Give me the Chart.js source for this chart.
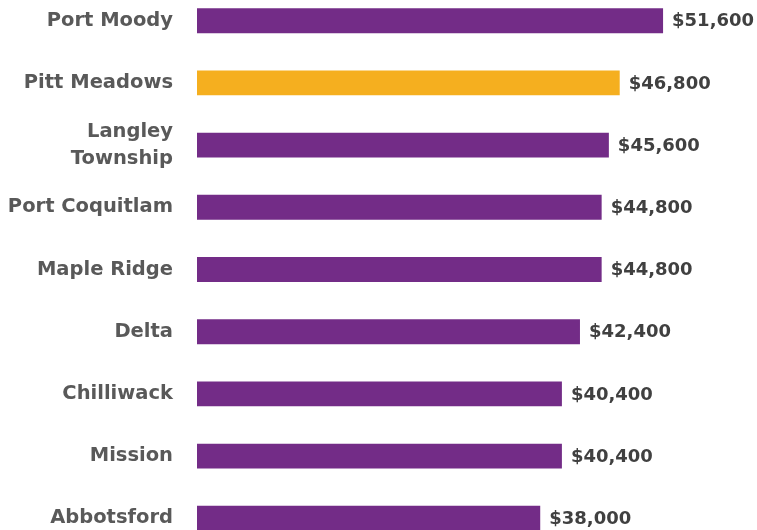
<!DOCTYPE html>
<html>
<head>
<meta charset="utf-8">
<script src="https://cdn.jsdelivr.net/npm/chart.js@4/dist/chart.umd.min.js"></script>
<style>
  html, body { margin: 0; padding: 0; background: #ffffff; overflow: hidden; }
  body { width: 757px; height: 530px; position: relative; }
  #chart { position: absolute; left: 0; top: -40px; }
</style>
</head>
<body>
<canvas id="chart" width="757" height="619"></canvas>
<script>
// Median household income by municipality
const municipalities = [
  'Port Moody', 'Pitt Meadows', ['Langley', 'Township'], 'Port Coquitlam',
  'Maple Ridge', 'Delta', 'Chilliwack', 'Mission', 'Abbotsford'
];
const incomes = [51600, 46800, 45600, 44800, 44800, 42400, 40400, 40400, 38000];
const highlighted = 'Pitt Meadows';

const PURPLE = '#732c87';
const GOLD = '#f5af1f';
const FONT = "'DejaVu Sans', 'Lato', sans-serif";

const barColors = municipalities.map(m => m === highlighted ? GOLD : PURPLE);

const fmt = v => '$' + v.toLocaleString('en-US');

// Writes the dollar amount just past the end of each bar
const valueLabels = {
  id: 'valueLabels',
  afterDatasetsDraw(chart) {
    const ctx = chart.ctx;
    const meta = chart.getDatasetMeta(0);
    ctx.save();
    ctx.font = "bold 18px " + FONT;
    ctx.fillStyle = '#404040';
    ctx.textAlign = 'left';
    ctx.textBaseline = 'middle';
    meta.data.forEach((bar, i) => {
      ctx.fillText(fmt(incomes[i]), bar.x + 9, bar.y + 1);
    });
    ctx.restore();
  }
};

new Chart(document.getElementById('chart'), {
  type: 'bar',
  data: {
    labels: municipalities,
    datasets: [{
      data: incomes,
      backgroundColor: barColors,
      borderWidth: 0,
      barPercentage: 0.8,
      categoryPercentage: 0.5
    }]
  },
  options: {
    indexAxis: 'y',
    responsive: false,
    maintainAspectRatio: false,
    animation: false,
    layout: { padding: 0 },
    plugins: { legend: { display: false }, tooltip: { enabled: false } },
    scales: {
      x: {
        display: false,
        min: 0,
        max: 62000
      },
      y: {
        grid: { display: false },
        border: { display: false },
        ticks: {
          color: '#595959',
          font: { family: FONT, size: 19.5, weight: 'bold', lineHeight: 1.4 },
          padding: 16
        },
        afterFit(scale) { scale.width = 197; }
      }
    }
  },
  plugins: [valueLabels]
});
</script>
</body>
</html>
